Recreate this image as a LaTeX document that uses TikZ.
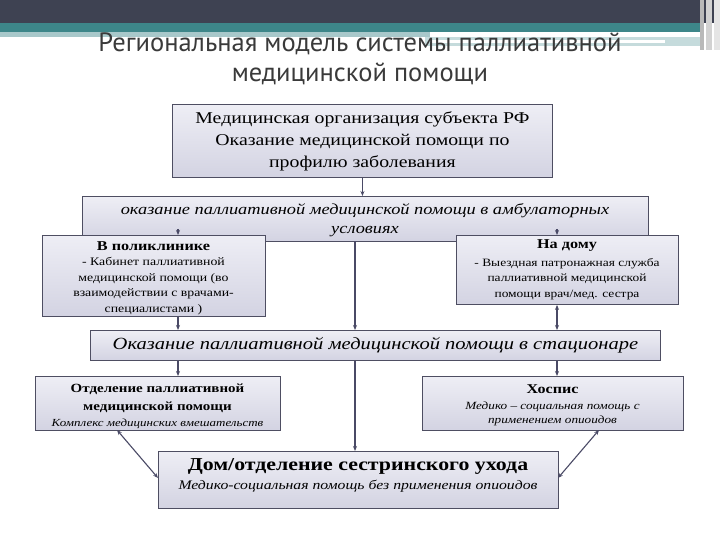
\documentclass[tikz,border=0pt]{standalone}
\usepackage{fontspec}
\setmainfont{Liberation Serif}[FakeStretch=1.2]
\newfontfamily\titlefont{PT Sans}
\usetikzlibrary{arrows.meta}
\definecolor{hdrdark}{HTML}{3E4252}
\definecolor{hdrteal}{HTML}{3D8689}
\definecolor{boxedge}{HTML}{4E4E62}
\definecolor{boxtop}{HTML}{EEEEF5}
\definecolor{boxbot}{HTML}{D3D3E2}
\definecolor{conn}{HTML}{4A4A66}
\definecolor{titlecol}{HTML}{3A3A3A}
\tikzset{
  box/.style={draw=boxedge, line width=0.9pt, top color=boxtop, bottom color=boxbot, inner sep=0pt, align=center, anchor=north west},
  txt/.style={inner sep=0pt, align=center, text=black},
  conn/.style={draw=conn, line width=1.1pt, -{Stealth[length=5pt,width=4pt]}},
  conn2/.style={draw=conn, line width=1.1pt, {Stealth[length=5pt,width=4pt]}-{Stealth[length=5pt,width=4pt]}}
}
\begin{document}
\begin{tikzpicture}[x=1pt,y=-1pt]
\useasboundingbox (0,0) rectangle (720,540);
% header
\fill[white] (0,0) rectangle (720,540);
\fill[hdrdark] (0,0) rectangle (720,23);
\fill[hdrteal] (0,23) rectangle (700,32);
\fill[hdrteal!45] (0,32) rectangle (430,37);
\fill[hdrteal!30] (425,37) rectangle (700,46);
\fill[white] (430,40) rectangle (665,43);
\fill[gray!55] (700,0) rectangle (704,50);
\fill[gray!35] (706,0) rectangle (712,50);
\fill[gray!20] (714,0) rectangle (720,50);
\node[txt, text=titlecol, font=\titlefont\fontsize{26.5}{30}\selectfont] (title) at (360,59) {Региональная модель системы паллиативной\\медицинской помощи};

% boxes
\node[box, minimum width=380pt, minimum height=73pt, font=\fontsize{16.5}{22}\selectfont] (top) at (172,104) {Медицинская организация субъекта РФ\\Оказание медицинской помощи по\\профилю заболевания};
\node[box, minimum width=566pt, minimum height=45pt] (amb) at (82,196) {};
\node[txt, font=\itshape\fontsize{15.3}{18.5}\selectfont] (ambt) at (365,220) {оказание паллиативной медицинской помощи в амбулаторных\\условиях};
\node[box, minimum width=223pt, minimum height=81pt] (poly) at (42,235) {};
\node[txt, font=\bfseries\fontsize{13.5}{14}\selectfont] (polyt) at (153.5,246) {В поликлинике};
\node[txt, font=\fontsize{11.5}{15.5}\selectfont] (polyb) at (153.5,286) {- Кабинет паллиативной\\медицинской помощи (во\\взаимодействии с врачами-\\специалистами )};
\node[box, minimum width=222pt, minimum height=69pt] (home) at (456,235) {};
\node[txt, font=\bfseries\fontsize{13.5}{14}\selectfont] (homet) at (567,246) {На дому};
\node[txt, font=\fontsize{11.2}{15.5}\selectfont] (homeb) at (567,279) {- Выездная патронажная служба\\паллиативной медицинской\\помощи врач/мед. сестра};

\node[box, minimum width=570pt, minimum height=30pt, font=\itshape\fontsize{17.1}{20}\selectfont] (stat) at (90,330) {Оказание паллиативной медицинской помощи в стационаре};

\node[box, minimum width=245pt, minimum height=54pt] (dept) at (35,376) {};
\node[txt, font=\bfseries\fontsize{12.5}{18}\selectfont] (deptt) at (157.5,398) {Отделение паллиативной\\медицинской помощи};
\node[txt, font=\itshape\fontsize{10.8}{12}\selectfont] (deptb) at (157.5,424) {Комплекс медицинских вмешательств};

\node[box, minimum width=261pt, minimum height=54pt] (hosp) at (422,376) {};
\node[txt, font=\bfseries\fontsize{13.4}{16}\selectfont] (hospt) at (552.5,389) {Хоспис};
\node[txt, font=\itshape\fontsize{11}{14}\selectfont] (hospb) at (552.5,414) {Медико – социальная помощь с\\применением опиоидов};

\node[box, minimum width=400pt, minimum height=57pt] (bot) at (158,451) {};
\node[txt, font=\bfseries\fontsize{18.2}{22}\selectfont] (bott) at (358,466) {Дом/отделение сестринского ухода};
\node[txt, font=\itshape\fontsize{13.1}{16}\selectfont] (botb) at (358,486) {Медико-социальная помощь без применения опиоидов};

% connectors
\draw[conn] (top.south) -- (top.south |- amb.north);
\coordinate (ambL) at (178,229);
\draw[conn] (ambL) -- (ambL |- poly.north);
\coordinate (ambR) at (557,229);
\draw[conn] (ambR) -- (ambR |- home.north);
\coordinate (ambC) at (355,241);
\draw[conn] (ambC) -- (ambC |- stat.north);
\draw[conn] (poly.south -| ambL) -- (ambL |- stat.north);
\draw[conn2] (home.south -| ambR) -- (ambR |- stat.north);
\draw[conn] (stat.south -| ambL) -- (ambL |- dept.north);
\draw[conn] (stat.south -| ambR) -- (ambR |- hosp.north);
\draw[conn] (stat.south -| ambC) -- (ambC |- bot.north);
\coordinate (deptA) at (117,430);
\coordinate (botL) at (158,478);
\draw[conn2] (deptA) -- (botL);
\coordinate (hospA) at (599,430);
\coordinate (botR) at (558,478);
\draw[conn2] (hospA) -- (botR);
\end{tikzpicture}
\end{document}
